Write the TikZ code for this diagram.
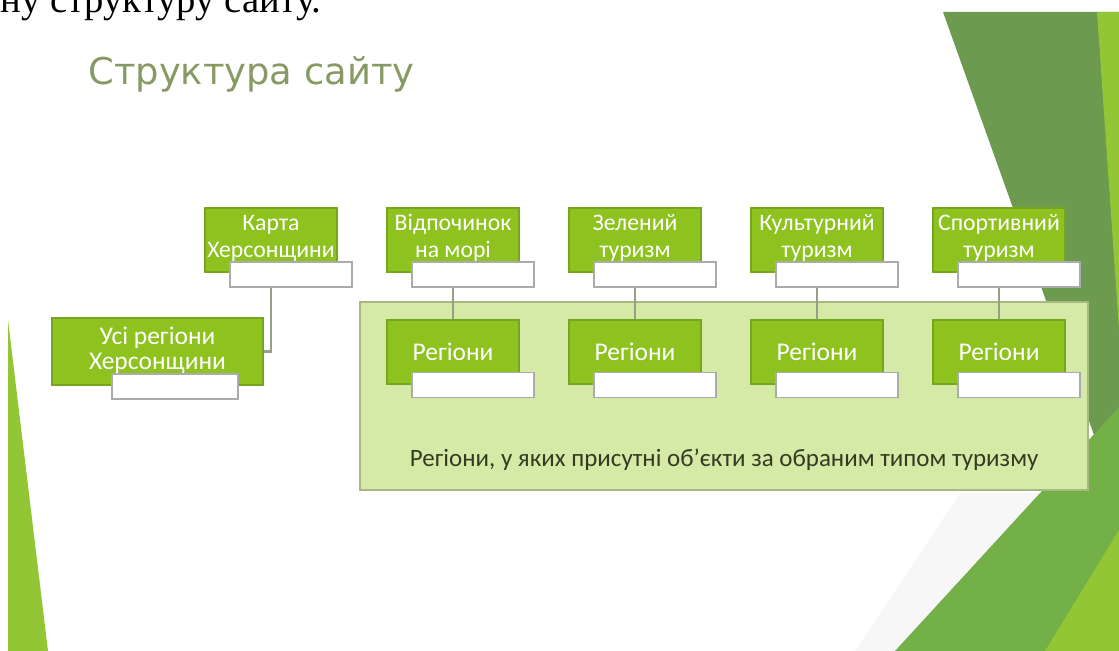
\documentclass[tikz,border=0pt]{standalone}
\usepackage{fontspec}
\setmainfont{Carlito}
\newfontfamily\introfont{Liberation Serif}
\newfontfamily\titlefont{DejaVu Sans}
\usetikzlibrary{positioning}

\definecolor{leafgreen}{RGB}{141,194,31}
\definecolor{leafedge}{RGB}{118,166,32}
\definecolor{palegreen}{RGB}{214,234,168}
\definecolor{paleedge}{RGB}{168,184,130}
\definecolor{mossgreen}{RGB}{108,154,78}
\definecolor{grassgreen}{RGB}{116,176,72}
\definecolor{brightgreen}{RGB}{146,198,52}
\definecolor{titlegreen}{RGB}{136,154,100}
\definecolor{wiregrey}{RGB}{150,160,135}
\definecolor{notecolor}{RGB}{50,60,32}

\begin{document}
\begin{tikzpicture}[x=0.2mm,y=-0.2mm,
  catbox/.style={draw=leafedge,fill=leafgreen,line width=0.8pt,minimum width=26.4mm,minimum height=12.8mm,
    inner sep=0pt,text=white,align=center,font=\fontsize{13.5}{15.5}\selectfont},
  topbox/.style={catbox,text depth=4.5pt},
  tagbox/.style={draw=black!33,fill=white,line width=1.1pt,minimum width=24.4mm,minimum height=5mm,inner sep=0pt},
  wire/.style={draw=wiregrey,line width=1.2pt}]
\useasboundingbox (0,0) rectangle (1119,651);
\clip (0,0) rectangle (1119,651);

%right side
\fill[mossgreen] (943,12) -- (1119,12) -- (1119,505) -- cycle;
\fill[brightgreen] (1097,12) -- (1119,12) -- (1119,330) -- cycle;
\fill[black!3] (960,493) -- (1040,493) -- (895,651) -- (855,651) -- cycle;
\fill[grassgreen] (1119,407) -- (1119,651) -- (895,651) -- cycle;
\fill[brightgreen] (1119,530) -- (1119,651) -- (1045,651) -- cycle;

%left side
\fill[brightgreen] (8,320) -- (8,651) -- (48,651) -- cycle;

%text above the slide
\node[anchor=base west,inner sep=0pt,font=\introfont\fontsize{22}{26}\selectfont] (intro) at (0,13) {ну структуру сайту.};

%title
\node[anchor=base west,inner sep=0pt,text=titlegreen,font=\titlefont\fontsize{21}{25}\selectfont] (title) at (88,85) {Структура сайту};

%regions area
\node[draw=paleedge,fill=palegreen,line width=1.2pt,minimum width=145.6mm,minimum height=37.6mm] (area) at (724,396) {};
\node[text=notecolor,font=\fontsize{14.2}{16}\selectfont] (note) at (724,460) {Регіони, у яких присутні об'єкти за обраним типом туризму};

%top row
\node[topbox] (kart) at (271,240) {Карта\\Херсонщини};
\node[tagbox] (kartT) at (291,274.5) {};
\node[topbox] (vidp) at (453,240) {Відпочинок\\на морі};
\node[tagbox] (vidpT) at (473,274.5) {};
\node[topbox] (zel) at (635,240) {Зелений\\туризм};
\node[tagbox] (zelT) at (655,274.5) {};
\node[topbox] (kult) at (817,240) {Культурний\\туризм};
\node[tagbox] (kultT) at (837,274.5) {};
\node[topbox] (sport) at (999,240) {Спортивний\\туризм};
\node[tagbox] (sportT) at (1019,274.5) {};

%all regions
\node[catbox,minimum width=42.2mm,minimum height=13.4mm,text depth=4pt,font=\fontsize{14.5}{14}\selectfont] (vsi) at (157.5,351.5) {Усі регіони\\Херсонщини};
\node[tagbox,minimum width=25.2mm] (vsiT) at (175,386.5) {};

%bottom row
\node[catbox,font=\fontsize{14.5}{16}\selectfont] (reg1) at (453,352) {Регіони};
\node[tagbox] (reg1T) at (473,385) {};
\node[catbox,font=\fontsize{14.5}{16}\selectfont] (reg2) at (635,352) {Регіони};
\node[tagbox] (reg2T) at (655,385) {};
\node[catbox,font=\fontsize{14.5}{16}\selectfont] (reg3) at (817,352) {Регіони};
\node[tagbox] (reg3T) at (837,385) {};
\node[catbox,font=\fontsize{14.5}{16}\selectfont] (reg4) at (999,352) {Регіони};
\node[tagbox] (reg4T) at (1019,385) {};

%lines
\draw[wire] (kartT.south -| kart) |- (vsi.east);
\draw[wire] (vidpT.south -| vidp) -- (reg1.north);
\draw[wire] (zelT.south -| zel) -- (reg2.north);
\draw[wire] (kultT.south -| kult) -- (reg3.north);
\draw[wire] (sportT.south -| sport) -- (reg4.north);
\end{tikzpicture}
\end{document}
